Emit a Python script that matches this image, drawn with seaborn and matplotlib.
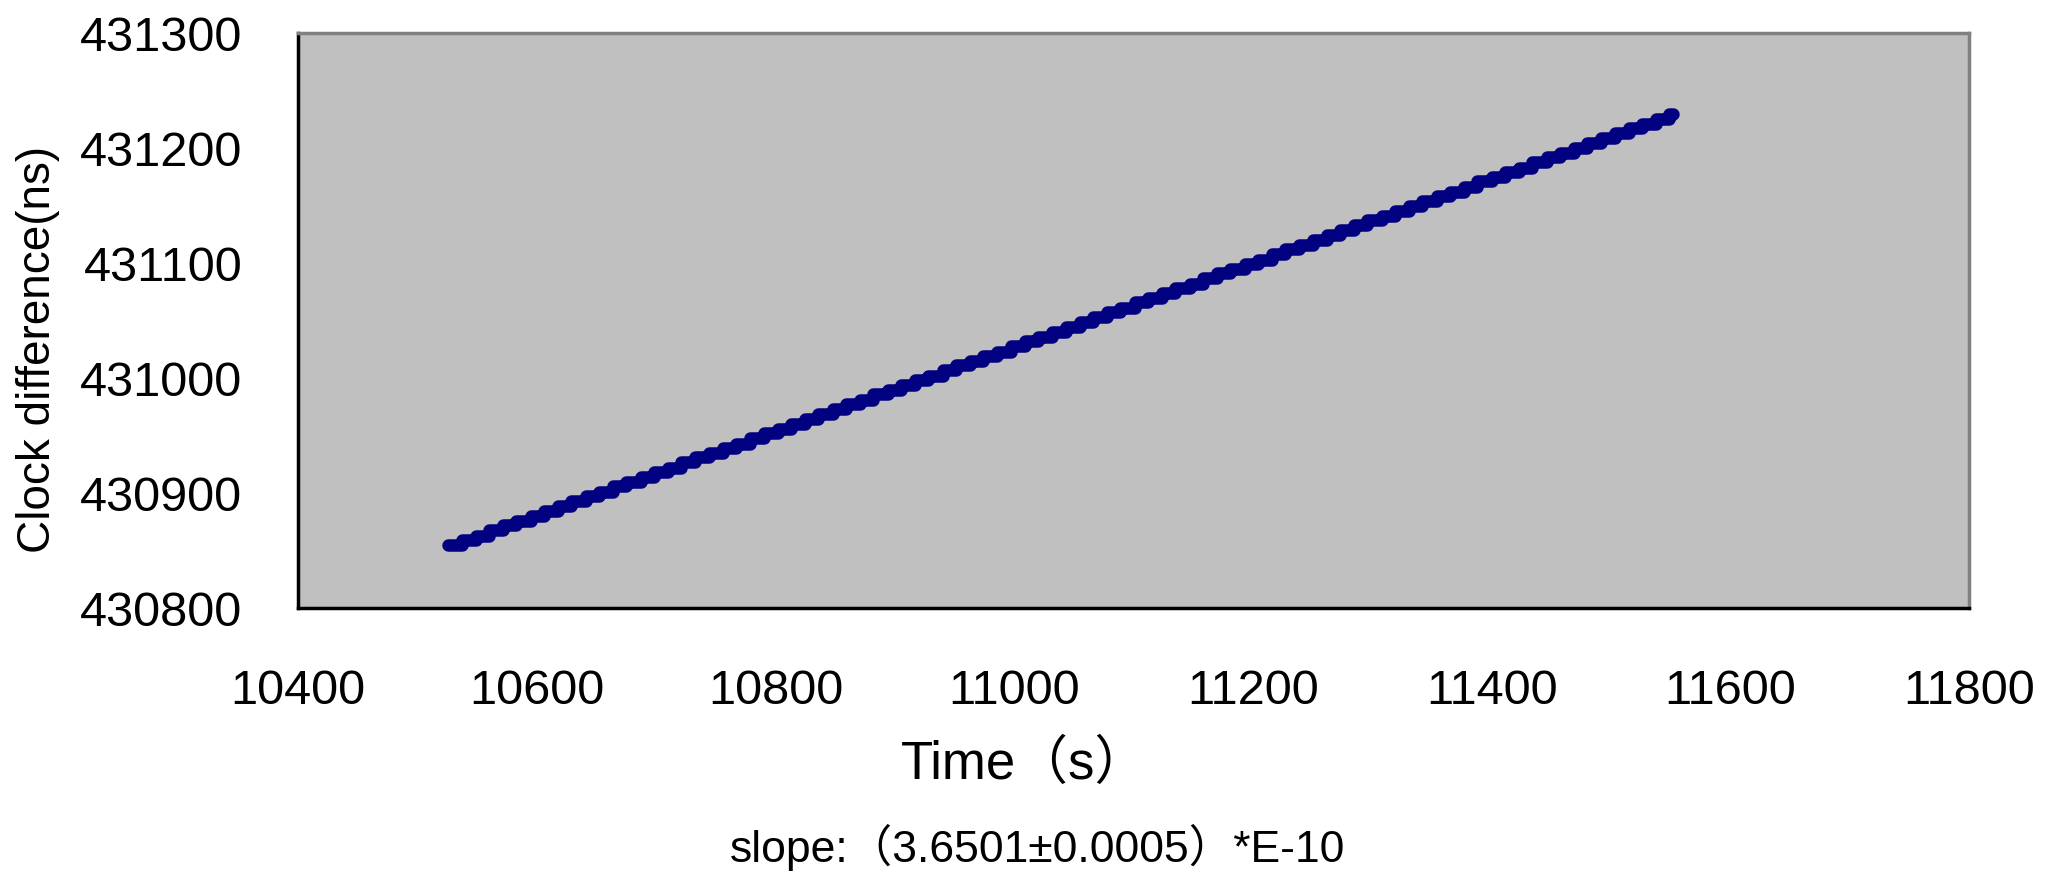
import matplotlib
matplotlib.use("Agg")
import matplotlib.pyplot as plt
import seaborn as sns
import pandas as pd

# Step start times (s) and clock difference plateau levels (ns)
time_s = [10526, 10537, 10549, 10560, 10572, 10583, 10595, 10606, 10618, 10629,
          10641, 10652, 10664, 10675, 10687, 10698, 10710, 10721, 10733, 10744,
          10756, 10767, 10779, 10790, 10802, 10813, 10825, 10836, 10848, 10859,
          10871, 10882, 10894, 10905, 10917, 10928, 10940, 10951, 10963, 10974,
          10986, 10997, 11009, 11020, 11032, 11043, 11055, 11066, 11078, 11089,
          11101, 11112, 11124, 11135, 11147, 11158, 11170, 11181, 11193, 11204,
          11216, 11227, 11239, 11250, 11262, 11273, 11285, 11296, 11308, 11319,
          11331, 11342, 11354, 11365, 11377, 11388, 11400, 11411, 11423, 11434,
          11446, 11457, 11469, 11480, 11492, 11503, 11515, 11526, 11538, 11549, 11552]
clock_ns = [430855, 430859, 430863, 430868, 430872, 430876, 430880, 430884, 430889, 430893,
            430897, 430901, 430906, 430910, 430914, 430918, 430922, 430927, 430931, 430935,
            430939, 430943, 430948, 430952, 430956, 430960, 430964, 430969, 430973, 430977,
            430981, 430986, 430990, 430994, 430998, 431002, 431007, 431011, 431015, 431019,
            431023, 431028, 431032, 431036, 431040, 431044, 431049, 431053, 431057, 431061,
            431066, 431070, 431074, 431078, 431082, 431087, 431091, 431095, 431099, 431103,
            431108, 431112, 431116, 431120, 431124, 431129, 431133, 431137, 431141, 431145,
            431150, 431154, 431158, 431162, 431166, 431171, 431175, 431179, 431183, 431188,
            431192, 431196, 431200, 431204, 431209, 431213, 431217, 431221, 431225, 431230, 431230]

x_ticks = [10400, 10600, 10800, 11000, 11200, 11400, 11600, 11800]
y_ticks = [430800, 430900, 431000, 431100, 431200, 431300]

x_label = "Time（s）"
y_label = "Clock difference(ns)"
note = "slope:（3.6501±0.0005）*E-10"

sns.set_theme(style="white")
plt.rcParams['font.family'] = ['Liberation Sans', 'Noto Sans CJK SC', 'DejaVu Sans']

df = pd.DataFrame({"t": time_s, "v": clock_ns})

fig = plt.figure(figsize=(20.58, 8.74), dpi=100)
ax = fig.add_axes([0.1448, 0.3043, 0.812, 0.6579])
ax.set_facecolor("#C0C0C0")

sns.lineplot(data=df, x="t", y="v", ax=ax, color="#000080", linewidth=9,
             drawstyle="steps-post", solid_capstyle="round", solid_joinstyle="round")

ax.set_xlim(10400, 11800)
ax.set_ylim(430800, 431300)
ax.set_xticks(x_ticks)
ax.set_yticks(y_ticks)
ax.set_xticklabels([str(v) for v in x_ticks])
ax.set_yticklabels([str(v) for v in y_ticks])
ax.tick_params(axis="both", direction="in", length=14, width=2, color="black",
               labelsize=35, labelcolor="black")
ax.tick_params(axis="x", pad=44)
ax.tick_params(axis="y", pad=40)
ax.set_xlabel("")
ax.set_ylabel("")

for s in ["left", "bottom"]:
    ax.spines[s].set_color("black")
    ax.spines[s].set_linewidth(2.5)
for s in ["top", "right"]:
    ax.spines[s].set_color("#808080")
    ax.spines[s].set_linewidth(2.5)
    ax.spines[s].set_visible(True)

fig.text(0.0185, 0.60, y_label, rotation=90, ha="center", va="center",
         fontsize=33, color="black")
fig.text(0.498, 0.125, x_label, ha="center", va="center", fontsize=38, color="black")
fig.text(0.504, 0.03, note, ha="center", va="center", fontsize=32, color="black")

fig.savefig("out.png", dpi=100, facecolor="white")
